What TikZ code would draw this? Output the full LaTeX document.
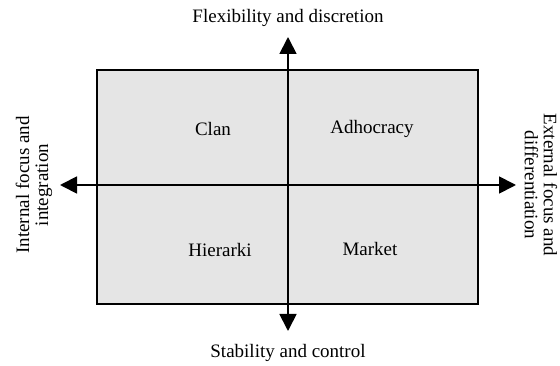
\documentclass[tikz,border=0pt]{standalone}
\usepackage{fontspec}
\setmainfont{Liberation Serif}
\usetikzlibrary{arrows.meta}
\tikzstyle{quad} = [draw=black, line width=1.5pt, fill=gray!20]
\tikzstyle{axis} = [line width=1.8pt, {Triangle[length=17pt,width=17pt]}-{Triangle[length=17pt,width=17pt]}]
\tikzstyle{lbl} = [font={\fontsize{19}{19}\selectfont}, align=center, inner sep=0pt]

\begin{document}
\begin{tikzpicture}[x=1pt,y=-1pt]
        \useasboundingbox (0,0) rectangle (560,366);
        \draw[quad] (97,70) rectangle (478,304);
        \coordinate (top) at (288,37);
        \coordinate (bottom) at (288,331);
        \coordinate (left) at (60,185);
        \coordinate (right) at (516,185);
        \draw[axis] (top)--(bottom);
        \draw[axis] (left)--(right);
        \node[lbl](flex) at (288,18){Flexibility and discretion};
        \node[lbl](stab) at (288,353){Stability and control};
        \node[lbl,rotate=90](internal) at (34,185){Internal focus and\\integration};
        \node[lbl,rotate=-90](external) at (541,185){External focus and\\differentiation};
        \node[lbl](clan) at (213,129){Clan};
        \node[lbl](adhoc) at (372,129){Adhocracy};
        \node[lbl](hier) at (220,250){Hierarki};
        \node[lbl](market) at (370,249){Market};
      \end{tikzpicture}
\end{document}
